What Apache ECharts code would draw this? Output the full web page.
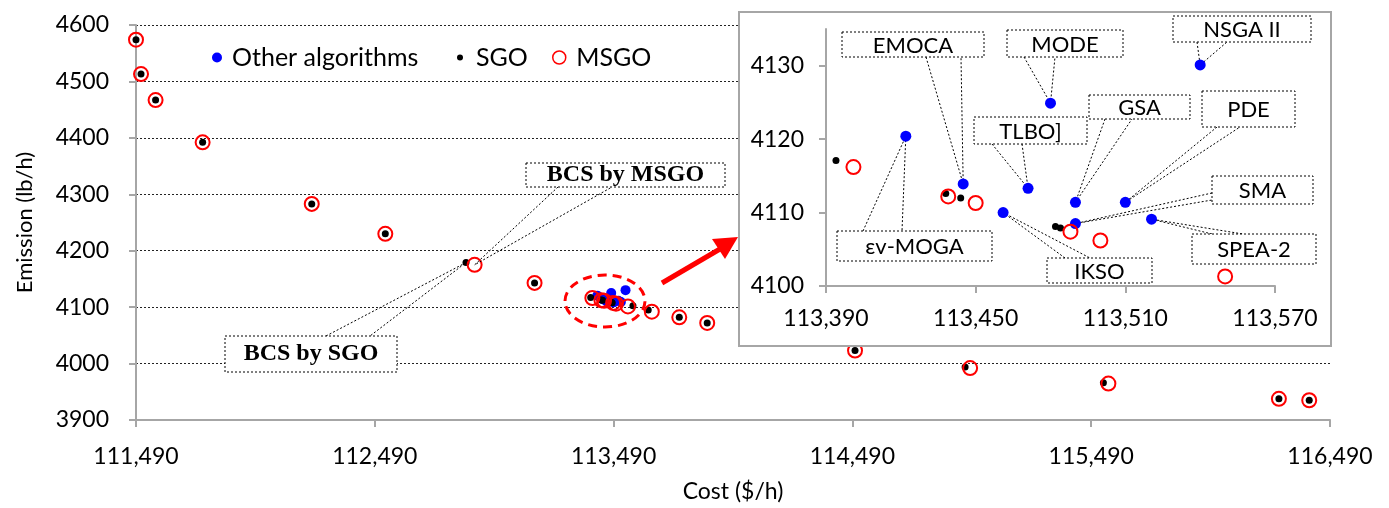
<!DOCTYPE html>
<html>
<head>
<meta charset="utf-8">
<script src="https://cdn.jsdelivr.net/npm/echarts@6/dist/echarts.min.js"></script>
<style>
  html, body { margin: 0; padding: 0; background: #fff; }
  #chart { width: 1389px; height: 508px; }
</style>
</head>
<body>
<div id="chart"></div>
<script>
// ---- data ----
const sgoCost = [111490, 111511, 111572, 111769, 112226, 112534, 112872, 113159,
  113394, 113438, 113444, 113482, 113484, 113571, 113635, 113765, 113882,
  114501, 114962, 115541, 116276, 116403];
const sgoEmission = [4574, 4513, 4467, 4392, 4283, 4230, 4179, 4143,
  4117.1, 4112.6, 4112.0, 4108.1, 4107.9, 4102.5, 4095, 4082, 4072,
  4023, 3994, 3966, 3937.5, 3935];

const msgoCost = [111490, 111511, 111572, 111769, 112226, 112534, 112908, 113159,
  113401, 113439, 113450, 113488, 113500, 113550, 113650, 113765, 113882,
  114501, 114983, 115562, 116276, 116403];
const msgoEmission = [4574, 4513, 4467, 4392, 4283, 4230, 4175, 4143,
  4116.2, 4112.2, 4111.3, 4107.4, 4106.2, 4101.3, 4092, 4082, 4072,
  4023, 3992, 3964.5, 3937.5, 3935];

const otherNames = ['εv-MOGA', 'EMOCA', 'IKSO', 'TLBO]', 'MODE', 'GSA', 'SMA', 'PDE', 'SPEA-2', 'NSGA II'];
const otherCost = [113422, 113445, 113461, 113471, 113480, 113490, 113490, 113510, 113520.5, 113540];
const otherEmission = [4120.4, 4113.9, 4110.0, 4113.3, 4124.9, 4111.4, 4108.5, 4111.4, 4109.1, 4130.1];

const costTicks = [111490, 112490, 113490, 114490, 115490, 116490];
const emissionTicks = [3900, 4000, 4100, 4200, 4300, 4400, 4500, 4600];
const insetCostTicks = [113390, 113450, 113510, 113570];
const insetEmissionTicks = [4100, 4110, 4120, 4130];
const insetEmissionMax = 4135;

const bcsSgo = 6;   // index of best compromise solution in the SGO list
const bcsMsgo = 6;  // same for MSGO

// callout boxes (pixel layout) and where their wedge leaves the box
const callouts = [
  { name: 'EMOCA',   box: [842, 32, 142, 25],  base: [[926, 57], [961, 57]] },
  { name: 'MODE',    box: [1007, 30, 116, 27], base: [[1024, 57], [1055, 57]] },
  { name: 'TLBO]',   box: [974, 117, 113, 27], base: [[992, 144], [1022, 144]] },
  { name: 'εv-MOGA', box: [837, 231, 155, 30], base: [[863, 231], [902, 231]] },
  { name: 'IKSO',    box: [1047, 258, 105, 25], base: [[1065, 258], [1090, 258]] },
  { name: 'GSA',     box: [1089, 95, 101, 24], base: [[1105, 119], [1132, 119]] },
  { name: 'PDE',     box: [1202, 91, 93, 36],  base: [[1217, 127], [1240, 127]] },
  { name: 'NSGA II', box: [1173, 16, 138, 26], base: [[1197, 42], [1227, 42]] },
  { name: 'SMA',     box: [1212, 176, 101, 28], base: [[1212, 193], [1212, 200]] },
  { name: 'SPEA-2',  box: [1192, 234, 124, 30], base: [[1212, 234], [1243, 234]] }
];

const zip = (xs, ys) => xs.map((x, i) => [x, ys[i]]);
const fmtCost = v => Number(v).toLocaleString('en-US');
const fmtPlain = v => String(v);
const FONT = 'Lato';

let chartDom = document.getElementById('chart');
let myChart = echarts.init(chartDom);

const axisLine = { show: true, lineStyle: { color: '#A6A6A6', width: 2 } };
const axisTick = { show: true, inside: false, length: 7, lineStyle: { color: '#A6A6A6', width: 2 } };
const legendText = { fontFamily: FONT, fontSize: 25, color: '#000' };

let option = {
  animation: false,
  backgroundColor: '#fff',
  grid: [
    { left: 136, right: 59, top: 25, bottom: 85 },
    { left: 826, right: 114, top: 29, bottom: 222 }
  ],
  legend: [
    { data: ['Other algorithms'], left: 207, top: 40, itemWidth: 20, itemHeight: 10,
      selectedMode: false, textStyle: legendText },
    { data: ['SGO'], left: 452, top: 40, itemWidth: 22, itemHeight: 6,
      selectedMode: false, textStyle: legendText },
    { data: [{ name: 'MSGO', itemStyle: { borderWidth: 1.5 } }], left: 547, top: 40, itemWidth: 24, itemHeight: 13,
      selectedMode: false, textStyle: legendText }
  ],
  xAxis: [
    {
      gridIndex: 0, type: 'value',
      min: costTicks[0], max: costTicks[costTicks.length - 1], interval: costTicks[1] - costTicks[0],
      name: 'Cost ($/h)', nameLocation: 'middle', nameGap: 60,
      nameTextStyle: { fontFamily: FONT, fontSize: 23, color: '#000' },
      axisLine: axisLine, axisTick: axisTick,
      axisLabel: { fontFamily: FONT, fontSize: 23, color: '#000', margin: 25, formatter: fmtCost },
      splitLine: { show: false }
    },
    {
      gridIndex: 1, type: 'value', z: 6,
      min: insetCostTicks[0], max: insetCostTicks[insetCostTicks.length - 1],
      interval: insetCostTicks[1] - insetCostTicks[0],
      axisLine: axisLine, axisTick: axisTick,
      axisLabel: { fontFamily: FONT, fontSize: 23, color: '#000', margin: 21, formatter: fmtCost },
      splitLine: { show: false }
    }
  ],
  yAxis: [
    {
      gridIndex: 0, type: 'value',
      min: emissionTicks[0], max: emissionTicks[emissionTicks.length - 1],
      interval: emissionTicks[1] - emissionTicks[0],
      name: 'Emission (lb/h)', nameLocation: 'middle', nameGap: 100,
      nameTextStyle: { fontFamily: FONT, fontSize: 22, color: '#000' },
      axisLine: axisLine, axisTick: axisTick,
      axisLabel: { fontFamily: FONT, fontSize: 23, color: '#000', margin: 27, formatter: fmtPlain },
      splitLine: { show: true, lineStyle: { color: '#222', width: 1, type: [2, 2] } }
    },
    {
      gridIndex: 1, type: 'value', z: 6,
      min: insetEmissionTicks[0], max: insetEmissionMax,
      interval: insetEmissionTicks[1] - insetEmissionTicks[0],
      axisLine: axisLine,
      axisTick: Object.assign({}, axisTick, { customValues: insetEmissionTicks }),
      axisLabel: { fontFamily: FONT, fontSize: 23, color: '#000', margin: 22,
        customValues: insetEmissionTicks, formatter: fmtPlain },
      splitLine: { show: false }
    }
  ],
  series: [
    { name: 'Other algorithms', type: 'scatter', xAxisIndex: 0, yAxisIndex: 0, z: 2,
      symbolSize: 10, itemStyle: { color: '#0000FF', opacity: 1 },
      data: zip(otherCost, otherEmission) },
    { name: 'SGO', type: 'scatter', xAxisIndex: 0, yAxisIndex: 0, z: 3,
      symbolSize: 7, itemStyle: { color: '#000', opacity: 1 },
      data: zip(sgoCost, sgoEmission) },
    { name: 'MSGO', type: 'scatter', xAxisIndex: 0, yAxisIndex: 0, z: 4,
      symbolSize: 14, itemStyle: { color: 'rgba(0,0,0,0)', borderColor: '#FF0000', borderWidth: 2, opacity: 1 },
      data: zip(msgoCost, msgoEmission) },
    // inset
    { name: 'insetGrid', type: 'scatter', xAxisIndex: 1, yAxisIndex: 1, z: 7, data: [],
      markLine: {
        silent: true, symbol: ['none', 'none'], label: { show: false },
        lineStyle: { color: '#5B9BD5', width: 1, type: [2, 2] },
        data: insetEmissionTicks.slice(1).map(v => ({ yAxis: v }))
      } },
    { name: 'Other algorithms', type: 'scatter', xAxisIndex: 1, yAxisIndex: 1, z: 9,
      symbolSize: 11, itemStyle: { color: '#0000FF', opacity: 1 },
      data: zip(otherCost, otherEmission) },
    { name: 'SGO', type: 'scatter', xAxisIndex: 1, yAxisIndex: 1, z: 9,
      symbolSize: 7, itemStyle: { color: '#000', opacity: 1 },
      data: zip(sgoCost, sgoEmission) },
    { name: 'MSGO', type: 'scatter', xAxisIndex: 1, yAxisIndex: 1, z: 9,
      symbolSize: 14, itemStyle: { color: 'rgba(0,0,0,0)', borderColor: '#FF0000', borderWidth: 2, opacity: 1 },
      data: zip(msgoCost, msgoEmission) }
  ]
};
myChart.setOption(option);

// ---- annotations, tips located through the axes ----
const dotted = { stroke: '#000', lineWidth: 1, lineDash: [2, 2], fill: 'none' };
let graphics = [
  { type: 'rect', z: 5, shape: { x: 739, y: 12, width: 592, height: 334 },
    style: { fill: '#fff', stroke: '#A6A6A6', lineWidth: 2 } }
];

callouts.forEach(c => {
  const i = otherNames.indexOf(c.name);
  const tip = myChart.convertToPixel({ gridIndex: 1 }, [otherCost[i], otherEmission[i]]);
  graphics.push({ type: 'polyline', z: 8, shape: { points: [c.base[0], tip, c.base[1]] }, style: dotted });
  graphics.push({ type: 'rect', z: 8, shape: { x: c.box[0], y: c.box[1], width: c.box[2], height: c.box[3] },
    style: { fill: '#fff', stroke: '#000', lineWidth: 1, lineDash: [2, 2] } });
  graphics.push({ type: 'text', z: 8, x: c.box[0] + c.box[2] / 2, y: c.box[1] + c.box[3] / 2 + 1,
    style: { text: c.name, fontFamily: FONT, fontSize: 22, fill: '#000', align: 'center', verticalAlign: 'middle' } });
});

const bcs = [
  { text: 'BCS by MSGO', box: [526, 163, 199, 24], base: [[558, 187], [612, 187]],
    pt: [msgoCost[bcsMsgo], msgoEmission[bcsMsgo]] },
  { text: 'BCS by SGO', box: [225, 336, 172, 36], base: [[326, 336], [370, 336]],
    pt: [sgoCost[bcsSgo], sgoEmission[bcsSgo]] }
];
bcs.forEach(b => {
  const tip = myChart.convertToPixel({ gridIndex: 0 }, b.pt);
  graphics.push({ type: 'polyline', z: 6, shape: { points: [b.base[0], tip, b.base[1]] }, style: dotted });
  graphics.push({ type: 'rect', z: 6, shape: { x: b.box[0], y: b.box[1], width: b.box[2], height: b.box[3] },
    style: { fill: '#fff', stroke: '#000', lineWidth: 1, lineDash: [2, 2] } });
  graphics.push({ type: 'text', z: 6, x: b.box[0] + b.box[2] / 2, y: b.box[1] + b.box[3] / 2,
    style: { text: b.text, fontFamily: '"Liberation Serif", "Times New Roman", serif', fontWeight: 'bold',
      fontSize: 24, fill: '#000', align: 'center', verticalAlign: 'middle' } });
});

// dashed ellipse around the cluster and the arrow pointing at the zoom box
graphics.push({ type: 'ellipse', z: 10, shape: { cx: 605, cy: 301, rx: 40, ry: 26 },
  style: { fill: 'none', stroke: '#FF0000', lineWidth: 3, lineDash: [9, 6] } });
graphics.push({ type: 'line', z: 10, shape: { x1: 662, y1: 283, x2: 720, y2: 249 },
  style: { stroke: '#FF0000', lineWidth: 5 } });
graphics.push({ type: 'polygon', z: 10, shape: { points: [[738, 237], [712, 239], [725, 259]] },
  style: { fill: '#FF0000' } });

myChart.setOption({ graphic: graphics });
</script>
</body>
</html>
